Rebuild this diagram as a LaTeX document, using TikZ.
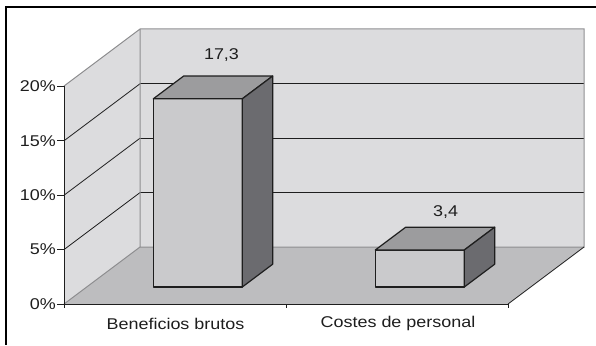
\documentclass[tikz,border=0pt]{standalone}
\usepackage{fontspec}
\setmainfont{Liberation Sans}[FakeStretch=1.15]
\definecolor{wallc}{HTML}{DCDCDE}
\definecolor{floorc}{HTML}{BDBDBF}
\definecolor{edgec}{HTML}{8E8E90}
\definecolor{barfront}{HTML}{CACACC}
\definecolor{bartop}{HTML}{9C9C9E}
\definecolor{barside}{HTML}{6B6B6F}
\definecolor{inkc}{HTML}{1E1E1E}
\begin{document}
\begin{tikzpicture}[x=1pt,y=-1pt,
  lbl/.style={font=\fontsize{15.6}{18}\selectfont, inner sep=0pt, text=inkc},
  grid/.style={draw=inkc, line width=0.8pt},
  wedge/.style={draw=edgec, line width=1pt},
  axisline/.style={draw=inkc, line width=1pt},
  barface/.style={draw=inkc, line width=1.2pt, line join=round}]
\useasboundingbox (0,0) rectangle (596,345);
% walls and floor
\fill[wallc] (140,29) rectangle (584,247);
\fill[wallc] (64,304) -- (64,86) -- (140,29) -- (140,247) -- cycle;
\fill[floorc] (64,304) -- (508,304) -- (584,247) -- (140,247) -- cycle;
% gridlines
\foreach \k in {1,2,3} {
  \draw[grid] (140,{247-54.4*\k}) -- (584,{247-54.4*\k});
  \draw[grid] (64,{304-54.4*\k}) -- (140,{247-54.4*\k});
}
% wall edges
\draw[wedge] (64,86) -- (140,29) -- (584,29) -- (584,247) -- (140,247) -- (140,29);
\draw[wedge] (64,304) -- (140,247);
\draw[inkc, line width=0.8pt] (508,304) -- (584,247);
% axes
\draw[axisline] (64,86) -- (64,304) -- (508,304);
\foreach \k in {0,1,2,3,4} \draw[axisline] (57,{304-54.4*\k}) -- (64,{304-54.4*\k});
\foreach \xx in {64,286,508} \draw[axisline] (\xx,304) -- (\xx,308);
% bar 1
\filldraw[barface, fill=barfront] (153.3,287) rectangle (242.3,98.8);
\filldraw[barface, fill=bartop] (153.3,98.8) -- (183.7,76) -- (272.7,76) -- (242.3,98.8) -- cycle;
\filldraw[barface, fill=barside] (242.3,98.8) -- (272.7,76) -- (272.7,264.2) -- (242.3,287) -- cycle;
% bar 2
\filldraw[barface, fill=barfront] (375.3,287) rectangle (464.3,250);
\filldraw[barface, fill=bartop] (375.3,250) -- (405.7,227.2) -- (494.7,227.2) -- (464.3,250) -- cycle;
\filldraw[barface, fill=barside] (464.3,250) -- (494.7,227.2) -- (494.7,264.2) -- (464.3,287) -- cycle;
% frame
\draw[black, line width=1.3pt] (596,7) -- (6,7) -- (6,345);
% labels
\node[lbl, anchor=east] (y0) at (56,304) {0\%};
\node[lbl, anchor=east] (y5) at (56,249.6) {5\%};
\node[lbl, anchor=east] (y10) at (56,195.2) {10\%};
\node[lbl, anchor=east] (y15) at (56,140.8) {15\%};
\node[lbl, anchor=east] (y20) at (56,86.4) {20\%};
\node[lbl] (c1) at (175.5,323.5) {Beneficios brutos};
\node[lbl] (c2) at (398,323.5) {Costes de personal};
\node[lbl] (v1) at (221.5,55) {17,3};
\node[lbl] (v2) at (445.7,211.7) {3,4};
\end{tikzpicture}
\end{document}
